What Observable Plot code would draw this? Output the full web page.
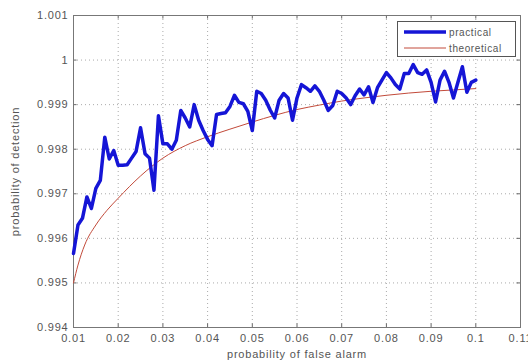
<!DOCTYPE html>
<html>
<head>
<meta charset="utf-8">
<script src="https://cdn.jsdelivr.net/npm/d3@7"></script>
<script src="https://cdn.jsdelivr.net/npm/@observablehq/plot@0.6"></script>
<style>
  html, body { margin: 0; padding: 0; background: #fff; }
  #wrap { position: relative; width: 528px; height: 362px; overflow: hidden; font-family: "Liberation Sans", Arial, sans-serif; }
  #legend { position: absolute; left: 397px; top: 21px; width: 119px; height: 36px; border: 1px solid #555; background: #fff; box-sizing: border-box; }
  #legend .row { position: absolute; left: 6px; height: 14px; font-size: 10px; color: #555; letter-spacing: 0.6px; display: flex; align-items: center; }
  #legend svg { margin-right: 3px; }
</style>
</head>
<body>
<div id="wrap"></div>
<script>
// Probability of false alarm (x) samples
const pfa = [0.010,0.011,0.012,0.013,0.014,0.015,0.016,0.017,0.018,0.019,
  0.020,0.021,0.022,0.023,0.024,0.025,0.026,0.027,0.028,0.029,
  0.030,0.031,0.032,0.033,0.034,0.035,0.036,0.037,0.038,0.039,
  0.040,0.041,0.042,0.043,0.044,0.045,0.046,0.047,0.048,0.049,
  0.050,0.051,0.052,0.053,0.054,0.055,0.056,0.057,0.058,0.059,
  0.060,0.061,0.062,0.063,0.064,0.065,0.066,0.067,0.068,0.069,
  0.070,0.071,0.072,0.073,0.074,0.075,0.076,0.077,0.078,0.079,
  0.080,0.081,0.082,0.083,0.084,0.085,0.086,0.087,0.088,0.089,
  0.090,0.091,0.092,0.093,0.094,0.095,0.096,0.097,0.098,0.099,0.100];
// Practical probability of detection
const practical = [0.99566,0.99630,0.99645,0.99693,0.99667,0.99712,0.99730,0.99827,0.99778,0.99797,
  0.99764,0.99764,0.99765,0.99780,0.99795,0.99848,0.99790,0.99780,0.99708,0.99875,
  0.99812,0.99812,0.99800,0.99820,0.99887,0.99870,0.99850,0.99900,0.99865,0.99842,
  0.99822,0.99808,0.99878,0.99880,0.99882,0.99896,0.99921,0.99905,0.99902,0.99885,
  0.99842,0.99930,0.99925,0.99910,0.99888,0.99870,0.99910,0.99925,0.99915,0.99865,
  0.99915,0.99945,0.99938,0.99930,0.99942,0.99930,0.99910,0.99887,0.99898,0.99930,
  0.99925,0.99915,0.99900,0.99920,0.99935,0.99922,0.99940,0.99905,0.99938,0.99955,
  0.99972,0.99960,0.99945,0.99935,0.99970,0.99970,0.99990,0.99972,0.99968,0.99978,
  0.99950,0.99906,0.99955,0.99975,0.99950,0.99915,0.99950,0.99985,0.99928,0.99950,0.99955];
// Theoretical curve
const theoPfa = [0.010,0.011,0.0125,0.015,0.0175,0.020,0.0225,0.025,0.030,0.035,0.040,0.045,0.050,0.055,0.060,0.065,0.070,0.075,0.080,0.085,0.090,0.095,0.100];
const theoretical = [0.99500,0.99540,0.99585,0.99630,0.99663,0.99690,0.99716,0.99740,0.99780,0.99808,0.99828,0.99845,0.99861,0.99876,0.99889,0.99899,0.99908,0.99915,0.99921,0.99926,0.99930,0.99933,0.99936];

const xTicks = [0.01,0.02,0.03,0.04,0.05,0.06,0.07,0.08,0.09,0.1,0.11];
const xTickLabels = ["0.01","0.02","0.03","0.04","0.05","0.06","0.07","0.08","0.09","0.1","0.11"];
const yTicks = [0.994,0.995,0.996,0.997,0.998,0.999,1,1.001];
const yTickLabels = ["0.994","0.995","0.996","0.997","0.998","0.999","1","1.001"];

const seriesNames = ["practical", "theoretical"];
const xLabel = "probability of false alarm";
const yLabel = "probability of detection";

const practicalData = pfa.map((x, i) => ({x, y: practical[i]}));
const theoData = theoPfa.map((x, i) => ({x, y: theoretical[i]}));

const chart = Plot.plot({
  width: 528,
  height: 362,
  marginLeft: 73,
  marginRight: 8,
  marginTop: 15,
  marginBottom: 35,
  style: {background: "#fff", fontFamily: "'Liberation Sans', Arial, sans-serif", fontSize: "11px", color: "#555"},
  x: {domain: [0.01, 0.11], ticks: xTicks, tickFormat: (d, i) => xTickLabels[i], label: null},
  y: {domain: [0.994, 1.001], ticks: yTicks, tickFormat: (d, i) => yTickLabels[i], label: null},
  marks: [
    Plot.gridX(xTicks, {stroke: "#aaa", strokeOpacity: 1, strokeDasharray: "1,3"}),
    Plot.gridY(yTicks, {stroke: "#aaa", strokeOpacity: 1, strokeDasharray: "1,3"}),
    Plot.axisX({ticks: xTicks, tickFormat: (d, i) => xTickLabels[i], tickSize: 0, tickPadding: 7, fill: "#555", fontSize: 11, label: xLabel, labelAnchor: "center", labelArrow: "none", labelOffset: 30}),
    Plot.axisY({ticks: yTicks, tickFormat: (d, i) => yTickLabels[i], tickSize: 0, tickPadding: 5, fill: "#555", fontSize: 11, label: yLabel, labelAnchor: "center", labelArrow: "none", labelOffset: 62}),
    Plot.ruleX(xTicks, {x: d => d, y1: 0.994, y2: 0.99408, stroke: "#666"}),
    Plot.ruleX(xTicks, {x: d => d, y1: 1.001, y2: 1.00092, stroke: "#666"}),
    Plot.ruleY(yTicks, {y: d => d, x1: 0.01, x2: 0.0108, stroke: "#666"}),
    Plot.ruleY(yTicks, {y: d => d, x1: 0.11, x2: 0.1092, stroke: "#666"}),
    Plot.frame({stroke: "#777"}),
    Plot.line(theoData, {x: "x", y: "y", stroke: "#c24a3a", strokeWidth: 1, curve: "monotone-x"}),
    Plot.line(practicalData, {x: "x", y: "y", stroke: "#1515d6", strokeWidth: 3.5, strokeLinejoin: "round"})
  ]
});
chart.querySelectorAll("text").forEach(t => t.setAttribute("letter-spacing", "0.8"));
const wrap = document.getElementById("wrap");
wrap.appendChild(chart);

const legend = document.createElement("div");
legend.id = "legend";
legend.innerHTML = `
  <div class="row" style="top:3px"><svg width="42" height="6"><line x1="0" y1="3" x2="42" y2="3" stroke="#1515d6" stroke-width="3.5"/></svg>${seriesNames[0]}</div>
  <div class="row" style="top:19px"><svg width="42" height="6"><line x1="0" y1="3" x2="42" y2="3" stroke="#c24a3a" stroke-width="1"/></svg>${seriesNames[1]}</div>`;
wrap.appendChild(legend);
</script>
</body>
</html>
